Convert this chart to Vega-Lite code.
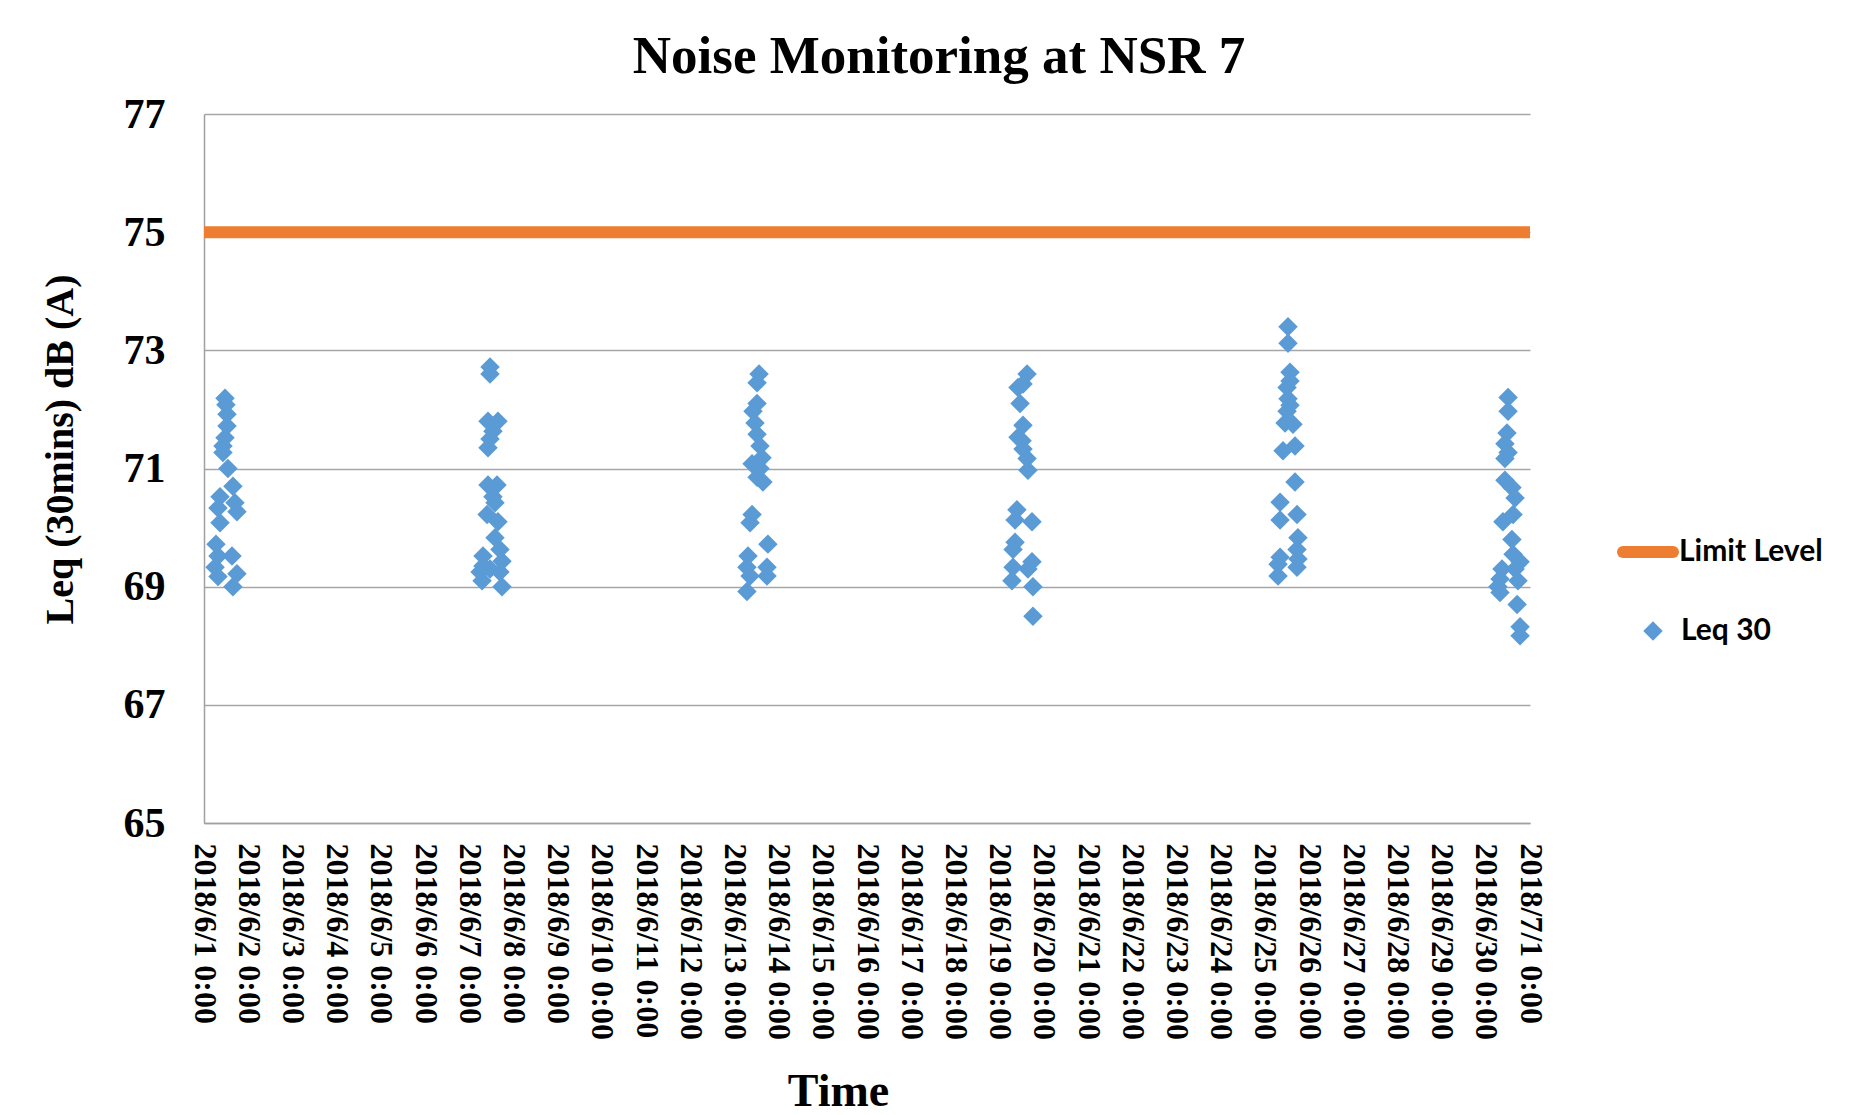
{
  "$schema": "https://vega.github.io/schema/vega-lite/v6.json",
  "width": 1326,
  "height": 709,
  "autosize": {"type": "none"},
  "padding": {"left": 204, "top": 114, "right": 338, "bottom": 292},
  "background": "white",
  "title": {
    "text": "Noise Monitoring at NSR 7",
    "font": "Liberation Serif",
    "fontSize": 53,
    "fontWeight": "bold",
    "color": "black",
    "anchor": "middle",
    "frame": "group",
    "dx": 72,
    "offset": 9
  },
  "config": {
    "view": {"stroke": null},
    "axis": {
      "labelFont": "Liberation Serif",
      "labelFontWeight": "bold",
      "labelColor": "black",
      "titleFont": "Liberation Serif",
      "titleFontWeight": "bold",
      "titleColor": "black",
      "domainColor": "#A0A0A0",
      "domainWidth": 1.5,
      "gridColor": "#A6A6A6",
      "gridWidth": 1.5,
      "ticks": false
    }
  },
  "layer": [
    {
      "data": {"values": [{"level": 75, "series": "Limit Level"}]},
      "mark": {"type": "rule", "strokeWidth": 12, "strokeCap": "butt"},
      "encoding": {
        "y": {"field": "level", "type": "quantitative", "scale": {"domain": [65, 77]}},
        "stroke": {
          "field": "series",
          "type": "nominal",
          "scale": {"domain": ["Limit Level"], "range": ["#ED7D31"]},
          "legend": {
            "title": null,
            "orient": "none",
            "legendX": 1413,
            "legendY": 407,
            "padding": 0,
            "symbolType": "stroke",
            "symbolSize": 2500,
            "symbolStrokeWidth": 12,
            "labelOffset": 0,
            "labelFont": "Lato",
            "labelFontWeight": "bold",
            "labelFontSize": 30,
            "labelColor": "black",
            "encode": {"symbols": {"update": {"strokeCap": {"value": "round"}}}}
          }
        }
      }
    },
    {
      "data": {
        "values": [
          {"t": "2018-06-01T11:24:00Z", "v": 72.19},
          {"t": "2018-06-01T11:54:00Z", "v": 72.08},
          {"t": "2018-06-01T12:30:00Z", "v": 71.92},
          {"t": "2018-06-01T12:30:00Z", "v": 71.72},
          {"t": "2018-06-01T11:24:00Z", "v": 71.52},
          {"t": "2018-06-01T10:18:00Z", "v": 71.38},
          {"t": "2018-06-01T10:18:00Z", "v": 71.27},
          {"t": "2018-06-01T13:00:00Z", "v": 71.0},
          {"t": "2018-06-01T15:42:00Z", "v": 70.7},
          {"t": "2018-06-01T08:42:00Z", "v": 70.52},
          {"t": "2018-06-01T16:48:00Z", "v": 70.42},
          {"t": "2018-06-01T07:36:00Z", "v": 70.33},
          {"t": "2018-06-01T17:54:00Z", "v": 70.27},
          {"t": "2018-06-01T08:42:00Z", "v": 70.08},
          {"t": "2018-06-01T06:30:00Z", "v": 69.72},
          {"t": "2018-06-01T07:36:00Z", "v": 69.52},
          {"t": "2018-06-01T15:12:00Z", "v": 69.52},
          {"t": "2018-06-01T06:00:00Z", "v": 69.33},
          {"t": "2018-06-01T07:36:00Z", "v": 69.17},
          {"t": "2018-06-01T17:54:00Z", "v": 69.22},
          {"t": "2018-06-01T15:42:00Z", "v": 69.0},

          {"t": "2018-06-07T11:18:00Z", "v": 72.72},
          {"t": "2018-06-07T11:18:00Z", "v": 72.6},
          {"t": "2018-06-07T10:12:00Z", "v": 71.8},
          {"t": "2018-06-07T15:36:00Z", "v": 71.8},
          {"t": "2018-06-07T12:54:00Z", "v": 71.63},
          {"t": "2018-06-07T11:18:00Z", "v": 71.5},
          {"t": "2018-06-07T10:12:00Z", "v": 71.35},
          {"t": "2018-06-07T10:12:00Z", "v": 70.72},
          {"t": "2018-06-07T15:06:00Z", "v": 70.72},
          {"t": "2018-06-07T12:54:00Z", "v": 70.52},
          {"t": "2018-06-07T14:00:00Z", "v": 70.42},
          {"t": "2018-06-07T09:42:00Z", "v": 70.22},
          {"t": "2018-06-07T15:36:00Z", "v": 70.1},
          {"t": "2018-06-07T14:00:00Z", "v": 69.83},
          {"t": "2018-06-07T16:42:00Z", "v": 69.63},
          {"t": "2018-06-07T07:30:00Z", "v": 69.52},
          {"t": "2018-06-07T17:48:00Z", "v": 69.43},
          {"t": "2018-06-07T07:30:00Z", "v": 69.35},
          {"t": "2018-06-07T11:18:00Z", "v": 69.3},
          {"t": "2018-06-07T05:54:00Z", "v": 69.25},
          {"t": "2018-06-07T16:42:00Z", "v": 69.25},
          {"t": "2018-06-07T07:00:00Z", "v": 69.1},
          {"t": "2018-06-07T17:48:00Z", "v": 69.0},

          {"t": "2018-06-13T13:24:00Z", "v": 72.6},
          {"t": "2018-06-13T12:18:00Z", "v": 72.45},
          {"t": "2018-06-13T12:18:00Z", "v": 72.1},
          {"t": "2018-06-13T10:06:00Z", "v": 71.97},
          {"t": "2018-06-13T11:12:00Z", "v": 71.77},
          {"t": "2018-06-13T12:18:00Z", "v": 71.58},
          {"t": "2018-06-13T13:54:00Z", "v": 71.38},
          {"t": "2018-06-13T15:00:00Z", "v": 71.18},
          {"t": "2018-06-13T09:36:00Z", "v": 71.08},
          {"t": "2018-06-13T13:54:00Z", "v": 71.0},
          {"t": "2018-06-13T12:18:00Z", "v": 70.85},
          {"t": "2018-06-13T15:30:00Z", "v": 70.77},
          {"t": "2018-06-13T09:36:00Z", "v": 70.22},
          {"t": "2018-06-13T08:30:00Z", "v": 70.08},
          {"t": "2018-06-13T18:12:00Z", "v": 69.72},
          {"t": "2018-06-13T07:24:00Z", "v": 69.52},
          {"t": "2018-06-13T06:48:00Z", "v": 69.33},
          {"t": "2018-06-13T17:42:00Z", "v": 69.33},
          {"t": "2018-06-13T08:30:00Z", "v": 69.18},
          {"t": "2018-06-13T17:42:00Z", "v": 69.18},
          {"t": "2018-06-13T06:48:00Z", "v": 68.92},

          {"t": "2018-06-19T14:54:00Z", "v": 72.6},
          {"t": "2018-06-19T12:42:00Z", "v": 72.43},
          {"t": "2018-06-19T10:00:00Z", "v": 72.37},
          {"t": "2018-06-19T11:06:00Z", "v": 72.1},
          {"t": "2018-06-19T12:42:00Z", "v": 71.73},
          {"t": "2018-06-19T10:00:00Z", "v": 71.53},
          {"t": "2018-06-19T12:12:00Z", "v": 71.47},
          {"t": "2018-06-19T12:42:00Z", "v": 71.33},
          {"t": "2018-06-19T14:54:00Z", "v": 71.17},
          {"t": "2018-06-19T15:24:00Z", "v": 70.97},
          {"t": "2018-06-19T09:24:00Z", "v": 70.3},
          {"t": "2018-06-19T17:36:00Z", "v": 70.1},
          {"t": "2018-06-19T08:24:00Z", "v": 70.13},
          {"t": "2018-06-19T08:24:00Z", "v": 69.75},
          {"t": "2018-06-19T07:18:00Z", "v": 69.63},
          {"t": "2018-06-19T17:36:00Z", "v": 69.42},
          {"t": "2018-06-19T07:18:00Z", "v": 69.33},
          {"t": "2018-06-19T15:24:00Z", "v": 69.3},
          {"t": "2018-06-19T06:42:00Z", "v": 69.1},
          {"t": "2018-06-19T18:06:00Z", "v": 69.0},
          {"t": "2018-06-19T18:06:00Z", "v": 68.5},

          {"t": "2018-06-25T12:36:00Z", "v": 73.4},
          {"t": "2018-06-25T12:36:00Z", "v": 73.12},
          {"t": "2018-06-25T13:42:00Z", "v": 72.63},
          {"t": "2018-06-25T13:42:00Z", "v": 72.48},
          {"t": "2018-06-25T12:06:00Z", "v": 72.37},
          {"t": "2018-06-25T12:36:00Z", "v": 72.18},
          {"t": "2018-06-25T13:42:00Z", "v": 72.07},
          {"t": "2018-06-25T12:06:00Z", "v": 71.97},
          {"t": "2018-06-25T11:00:00Z", "v": 71.77},
          {"t": "2018-06-25T15:18:00Z", "v": 71.75},
          {"t": "2018-06-25T16:24:00Z", "v": 71.38},
          {"t": "2018-06-25T09:54:00Z", "v": 71.3},
          {"t": "2018-06-25T16:24:00Z", "v": 70.77},
          {"t": "2018-06-25T08:18:00Z", "v": 70.43},
          {"t": "2018-06-25T17:30:00Z", "v": 70.22},
          {"t": "2018-06-25T08:18:00Z", "v": 70.13},
          {"t": "2018-06-25T18:00:00Z", "v": 69.83},
          {"t": "2018-06-25T17:30:00Z", "v": 69.63},
          {"t": "2018-06-25T18:00:00Z", "v": 69.47},
          {"t": "2018-06-25T08:18:00Z", "v": 69.5},
          {"t": "2018-06-25T07:12:00Z", "v": 69.38},
          {"t": "2018-06-25T17:30:00Z", "v": 69.33},
          {"t": "2018-06-25T07:12:00Z", "v": 69.18},

          {"t": "2018-06-30T12:06:00Z", "v": 72.2},
          {"t": "2018-06-30T12:06:00Z", "v": 71.97},
          {"t": "2018-06-30T11:30:00Z", "v": 71.6},
          {"t": "2018-06-30T10:24:00Z", "v": 71.42},
          {"t": "2018-06-30T12:06:00Z", "v": 71.27},
          {"t": "2018-06-30T10:24:00Z", "v": 71.17},
          {"t": "2018-06-30T10:24:00Z", "v": 70.8},
          {"t": "2018-06-30T14:12:00Z", "v": 70.68},
          {"t": "2018-06-30T15:54:00Z", "v": 70.5},
          {"t": "2018-06-30T14:48:00Z", "v": 70.22},
          {"t": "2018-06-30T09:18:00Z", "v": 70.1},
          {"t": "2018-06-30T14:12:00Z", "v": 69.8},
          {"t": "2018-06-30T14:48:00Z", "v": 69.55},
          {"t": "2018-06-30T18:36:00Z", "v": 69.42},
          {"t": "2018-06-30T08:48:00Z", "v": 69.3},
          {"t": "2018-06-30T15:54:00Z", "v": 69.3},
          {"t": "2018-06-30T07:42:00Z", "v": 69.13},
          {"t": "2018-06-30T17:30:00Z", "v": 69.1},
          {"t": "2018-06-30T06:36:00Z", "v": 69.0},
          {"t": "2018-06-30T07:42:00Z", "v": 68.9},
          {"t": "2018-06-30T17:00:00Z", "v": 68.7},
          {"t": "2018-06-30T18:36:00Z", "v": 68.32},
          {"t": "2018-06-30T18:36:00Z", "v": 68.17}
        ]
      },
      "mark": {"type": "point", "shape": "diamond", "filled": true, "size": 380, "opacity": 1, "strokeWidth": 0},
      "encoding": {
        "x": {
          "field": "t",
          "type": "temporal",
          "title": "Time",
          "scale": {
            "type": "utc",
            "domain": [
              {"year": 2018, "month": 6, "date": 1, "utc": true},
              {"year": 2018, "month": 7, "date": 1, "utc": true}
            ]
          },
          "axis": {
            "tickCount": {"interval": "day", "step": 1},
            "labelExpr": "utcFormat(datum.value, '%Y/%-m/%-d %-H:%M')",
            "labelAngle": 90,
            "labelFontSize": 32,
            "labelPadding": 20,
            "labelLimit": 400,
            "labelOverlap": false,
            "labelFlush": false,
            "grid": false,
            "titleFontSize": 46,
            "titleX": 634,
            "titleY": 282,
            "titleBaseline": "alphabetic",
            "titleAlign": "center"
          }
        },
        "y": {
          "field": "v",
          "type": "quantitative",
          "title": "Leq (30mins) dB (A)",
          "scale": {"domain": [65, 77], "nice": false, "zero": false},
          "axis": {
            "values": [65, 67, 69, 71, 73, 75, 77],
            "format": "d",
            "labelFontSize": 42,
            "labelPadding": 39,
            "labelFlush": false,
            "grid": true,
            "titleFontSize": 40,
            "titleAngle": -90,
            "titleX": -132,
            "titleY": 335,
            "titleBaseline": "alphabetic",
            "titleAlign": "center"
          }
        },
        "fill": {
          "datum": "Leq 30",
          "type": "nominal",
          "scale": {"domain": ["Leq 30"], "range": ["#5B9BD5"]},
          "legend": {
            "title": null,
            "orient": "none",
            "legendX": 1434,
            "legendY": 502,
            "padding": 0,
            "symbolType": "diamond",
            "symbolSize": 380,
            "symbolStrokeWidth": 0,
            "labelOffset": 13,
            "labelFont": "Lato",
            "labelFontWeight": "bold",
            "labelFontSize": 30,
            "labelColor": "black"
          }
        }
      }
    }
  ],
  "resolve": {"scale": {"fill": "independent", "stroke": "independent"}}
}
